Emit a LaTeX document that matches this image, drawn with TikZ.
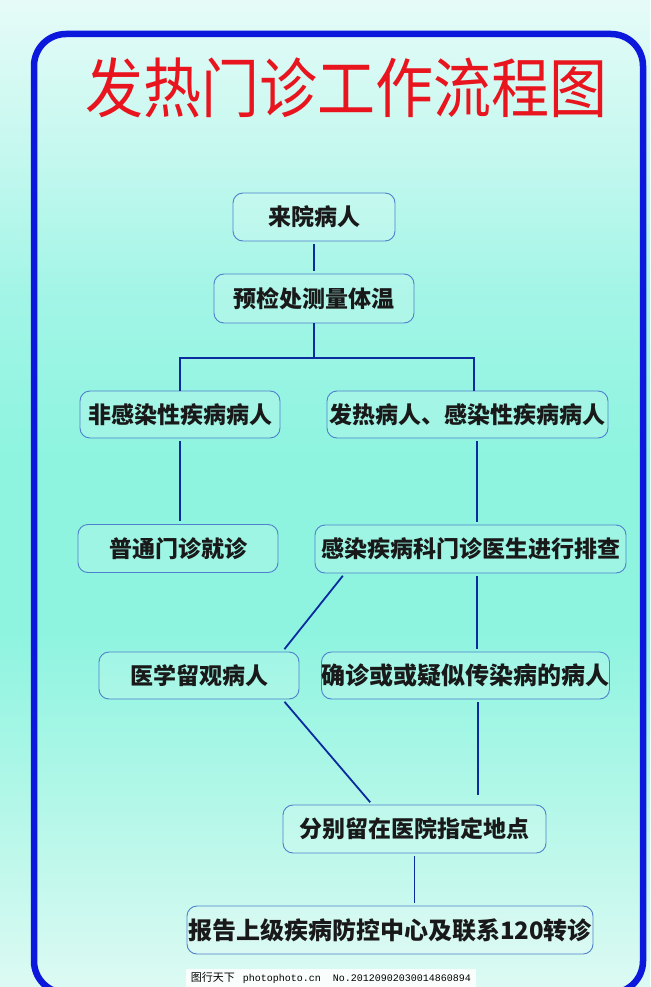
\documentclass[tikz,border=0pt]{standalone}
\usepackage{fontspec}
\setmainfont{Noto Sans CJK SC}
\setmonofont{Liberation Mono}
\usetikzlibrary{calc}

\definecolor{frameblue}{HTML}{0C18DC}
\definecolor{titlered}{HTML}{E8141E}
\definecolor{linkblue}{HTML}{0B2C9E}
\definecolor{boxline}{HTML}{4E80CC}
\definecolor{bgtop}{HTML}{E6FBF8}
\definecolor{bgupper}{HTML}{C6F8EF}
\definecolor{bghigh}{HTML}{A2F5E6}
\definecolor{bgmid}{HTML}{8EF4E0}
\definecolor{bglow}{HTML}{B2F7E8}
\definecolor{bgbottom}{HTML}{DCFAF3}

% only 25bp..75bp of the shading lands on the page
\pgfdeclareverticalshading{bgfade}{100bp}{color(0bp)=(bgbottom); color(25bp)=(bgbottom); color(34.5bp)=(bglow); color(43bp)=(bgmid); color(52bp)=(bgmid); color(60bp)=(bghigh); color(67.5bp)=(bgupper); color(75bp)=(bgtop); color(100bp)=(bgtop)}

\newcommand\boxsize{\fontsize{23}{23}\selectfont}
\newcommand\wideboxsize{\fontsize{24}{24}\selectfont}

\tikzset{
  stepbox/.style={draw=boxline, line width=0.9pt, rounded corners=10pt, fill=white, fill opacity=0.15, text opacity=1, text=black!90, font=\boxsize\bfseries, inner sep=0pt},
  link/.style={draw=linkblue, line width=1.8pt, shorten <=3pt, shorten >=3pt},
  tree/.style={draw=linkblue, line width=1.8pt}
}

\begin{document}
\begin{tikzpicture}[x=1pt, y=-1pt]
      % page and background
      \useasboundingbox (0,0) rectangle (650,987);
      \clip (0,0) rectangle (650,987);
      \shade[shading=bgfade] (0,0) rectangle (650,987);

      % outer frame
      \draw[frameblue, line width=6.5pt, rounded corners=32pt] (34,34) rectangle (643,993);

      % heading
      \node (title) at (346,88) {\color{titlered}\scalebox{1}[1.12]{\fontsize{58}{58}\selectfont 发热门诊工作流程图}};

      % steps, top to bottom
      \node (come) at (314,217) [stepbox, minimum width=162, minimum height=48] {来院病人};
      \node (check) at (314,298.5) [stepbox, minimum width=200, minimum height=49] {预检处测量体温};
      \node (nonInf) at (180,414.5) [stepbox, minimum width=200, minimum height=47] {非感染性疾病病人};
      \node (fever) at (467.5,414.5) [stepbox, minimum width=281, minimum height=47] {发热病人、感染性疾病病人};
      \node (normal) at (178,548.5) [stepbox, minimum width=200, minimum height=48] {普通门诊就诊};
      \node (screen) at (470.5,549) [stepbox, minimum width=311, minimum height=48] {感染疾病科门诊医生进行排查};
      \node (observe) at (199,675.5) [stepbox, minimum width=200, minimum height=47] {医学留观病人};
      \node (confirm) at (465.5,675.5) [stepbox, minimum width=285, minimum height=47, font=\wideboxsize\bfseries] {确诊或或疑似传染病的病人};
      \node (stay) at (414.5,829) [stepbox, minimum width=263, minimum height=48] {分别留在医院指定地点};
      \node (report) at (390,930) [stepbox, minimum width=406, minimum height=48, font=\wideboxsize\bfseries] {报告上级疾病防控中心及联系120转诊};

      % split after the temperature check
      \coordinate (splitL) at (180,358);
      \coordinate (splitR) at (474,358);
      \coordinate (rightA) at (477,0);
      \coordinate (rightB) at (478,0);

      % connectors
      \draw[link] (come.south) -- (check.north);
      \draw[tree] (check.south) -- (check.south |- splitL);
      \draw[tree] (nonInf.north) -- (splitL) -- (splitR) -- (splitR |- fever.north);
      \draw[link] (nonInf.south) -- (nonInf.south |- normal.north);
      \draw[link] (fever.south -| rightA) -- (screen.north -| rightA);
      \draw[link] (screen.191.5) -- (observe.16.6);
      \draw[link] (screen.south -| rightA) -- (confirm.north -| rightA);
      \draw[link] (observe.-16.8) -- (stay.150);
      \draw[link, shorten >=10pt] (confirm.south -| rightB) -- (stay.north -| rightB);
      \draw[link] (stay.south) -- (stay.south |- report.north);

      % watermark strip
      \node (mark) at (331,978) [fill=white, fill opacity=0.85, text opacity=1, inner xsep=5pt, inner ysep=3pt] {\fontsize{11}{11}\selectfont 图行天下\hspace{8pt}{\ttfamily\fontsize{10}{10}\selectfont photophoto.cn\hspace{12pt}No.20120902030014860894}};
    \end{tikzpicture}
\end{document}
